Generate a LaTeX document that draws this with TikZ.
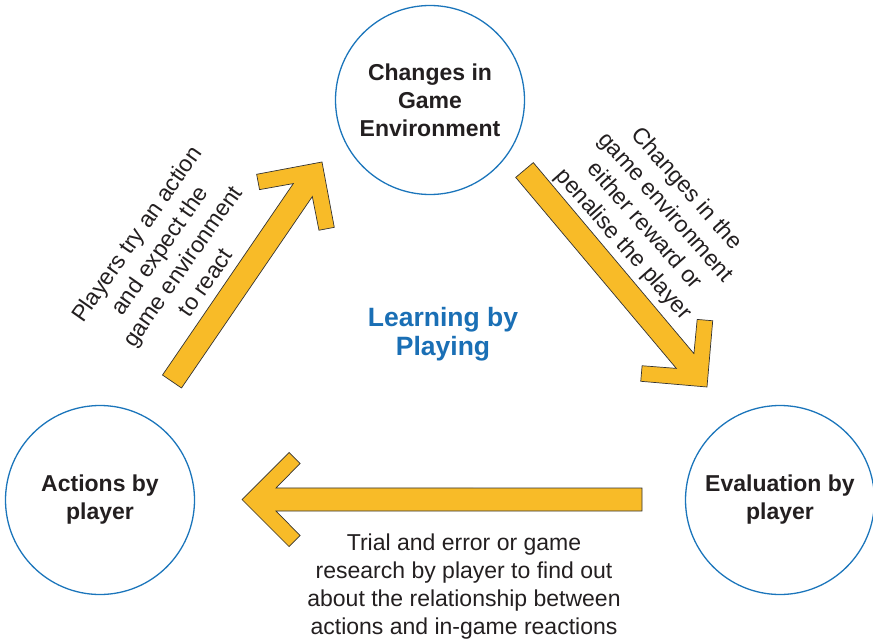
\documentclass[tikz,border=0pt]{standalone}
\usepackage{fontspec}
\setmainfont{Liberation Sans}
\usetikzlibrary{calc}

\definecolor{ringblue}{HTML}{1B75BB}
\definecolor{titleblue}{HTML}{1A6FB5}
\definecolor{arrowfill}{HTML}{F8BB28}
\definecolor{inkgray}{HTML}{231F20}
\definecolor{edgegray}{HTML}{333333}

% Broad block arrow with a chevron head, from tail (#1) to tip (#2)
\newcommand{\blockarrow}[2]{%
  \draw[blockarrow] (#2)
    -- ($(#2)!66.5pt!45:(#1)$)
    -- ($(#2)!68.3pt!31.8:(#1)$)
    -- ($(#2)!35.9pt!18.7:(#1)$)
    -- ($(#1)!11.5pt!-90:(#2)$)
    -- ($(#1)!11.5pt!90:(#2)$)
    -- ($(#2)!35.9pt!-18.7:(#1)$)
    -- ($(#2)!68.3pt!-31.8:(#1)$)
    -- ($(#2)!66.5pt!-45:(#1)$)
    -- cycle;}

\begin{document}
\begin{tikzpicture}[x=1pt,y=-1pt,
  ring/.style={circle, draw=ringblue, line width=1.3pt, minimum size=189pt,
    inner sep=0pt, text=inkgray, align=center,
    font=\bfseries\fontsize{23}{28}\selectfont},
  caption/.style={text=inkgray, align=center, inner sep=0pt,
    font=\fontsize{23}{28}\selectfont},
  blockarrow/.style={fill=arrowfill, draw=edgegray, line width=0.7pt,
    line join=miter}]
\useasboundingbox (0,0) rectangle (873,642);

% arrow end points
\coordinate (up-tail) at (172,381.5);
\coordinate (up-tip) at (322,162);
\coordinate (down-tail) at (524.5,170);
\coordinate (down-tip) at (707,387);
\coordinate (back-tail) at (642,499.5);
\coordinate (back-tip) at (242,499.5);

\blockarrow{up-tail}{up-tip}
\blockarrow{down-tail}{down-tip}
\blockarrow{back-tail}{back-tip}

% the three stages of the cycle
\node[ring] (env) at (430,100) {Changes in\\Game\\Environment};
\node[ring] (act) at (100,500) {Actions by\\player};
\node[ring] (eval) at (780,500) {Evaluation by\\player};

% centre title
\node[text=titleblue, align=center,
  font=\bfseries\fontsize{26.5}{29}\selectfont] (title) at (443,334)
  {Learning by\\Playing};

% explanations along the arrows
\node[caption, rotate=55] (note-up) at (170.5,258)
  {Players try an action\\and expect the\\game environment\\to react};
\node[caption, rotate=-48.5] (note-down) at (654.5,217)
  {Changes in the\\game environment\\either reward or\\penalise the player};
\node[caption] (note-back) at (464,587)
  {Trial and error or game\\research by player to find out\\about the relationship between\\actions and in-game reactions};
\end{tikzpicture}
\end{document}
